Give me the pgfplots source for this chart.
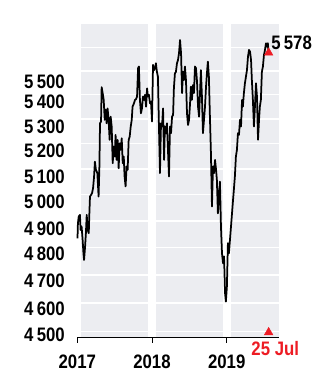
\documentclass[border=0pt]{standalone}
\usepackage{pgfplots}
\pgfplotsset{compat=1.18}
\usepackage{fontspec}
\setmainfont{Liberation Sans}[FakeStretch=0.86]
\definecolor{panel}{RGB}{236,237,241}
\definecolor{myred}{RGB}{237,28,36}
\pgfplotstableread{
day value
1 4835
3 4891
7 4917
13 4923
16 4866
21 4879
26 4829
30 4780
33 4755
38 4804
42 4854
46 4923
51 4866
56 4854
59 4929
62 4993
67 4999
72 5006
77 5025
82 5071
86 5129
91 5097
98 5084
104 4993
108 5110
111 5283
116 5290
119 5432
124 5407
129 5379
134 5297
139 5338
143 5283
148 5344
153 5297
158 5216
163 5310
168 5270
173 5123
178 5189
183 5149
187 5236
192 5136
197 5216
202 5103
207 5202
212 5176
217 5222
222 5123
227 5149
231 5071
236 5032
241 5110
246 5097
251 5216
256 5229
261 5270
266 5297
270 5351
277 5365
282 5379
287 5382
292 5393
297 5512
301 5519
306 5379
311 5324
316 5344
321 5393
326 5379
331 5400
336 5351
341 5427
345 5393
350 5400
355 5365
360 5372
365 5290
370 5526
375 5504
380 5512
384 5533
389 5497
394 5476
399 5270
404 5084
409 5283
414 5270
419 5344
424 5136
428 5270
433 5243
438 5283
443 5176
448 5071
453 5270
458 5243
463 5310
468 5317
472 5427
477 5490
482 5497
487 5533
492 5547
497 5576
502 5633
507 5576
512 5407
516 5497
521 5462
526 5519
531 5462
536 5324
541 5276
546 5297
551 5365
555 5434
560 5379
565 5441
570 5407
575 5519
580 5512
585 5455
590 5351
595 5310
599 5393
604 5504
609 5393
614 5243
619 5297
624 5351
629 5434
634 5497
638 5540
643 5476
648 5310
653 5162
658 4955
663 5110
668 5084
673 5136
678 5097
682 5058
687 4929
692 4993
697 5051
702 4879
707 4780
712 4743
717 4768
722 4635
726 4605
731 4659
736 4817
741 4780
746 4829
751 4879
756 4929
761 4980
765 5019
770 5071
775 5149
780 5176
785 5243
790 5236
795 5297
800 5270
805 5379
809 5351
814 5407
819 5448
824 5476
829 5504
834 5561
839 5590
844 5583
849 5547
853 5462
858 5379
863 5270
868 5351
873 5448
878 5393
883 5216
888 5297
892 5351
897 5379
902 5497
907 5519
912 5568
917 5590
922 5619
927 5604
931 5619
935 5578
}\ftse
\begin{document}
\begin{tikzpicture}
\begin{axis}[
  set layers,
  at={(0pt,0pt)}, anchor=south west,
  scale only axis, width=201.7pt, height=313.3pt,
  xmin=0, xmax=985.6,
  ymode=log, ymin=4480, ymax=5703,
  axis x line*=bottom, axis y line*=left,
  x axis line style={-, black, line width=0.8pt},
  y axis line style={draw=none},
  xtick={0,365,730}, xticklabels={2017,2018,2019},
  ytick={4500,4600,4700,4800,4900,5000,5100,5200,5300,5400,5500,5600},
  yticklabels={\raisebox{3.5pt}{4\,500},\raisebox{1.6pt}{4\,600},\raisebox{1.3pt}{4\,700},\raisebox{0.7pt}{4\,800},\raisebox{-0.4pt}{4\,900},5\,000,\raisebox{-0.7pt}{5\,100},5\,200,\raisebox{-0.7pt}{5\,300},5\,400,\raisebox{-3.8pt}{5\,500},{}},
  ymajorgrids, grid style={white, line width=1.2pt},
  tick align=outside, major tick length=5.5pt,
  xtick style={black, line width=0.8pt},
  ytick style={draw=none},
  yminorticks=false,
  tick label style={font=\fontsize{19.5}{20}\selectfont\bfseries},
  xticklabel style={inner sep=0pt, anchor=base, yshift=-25.8pt},
  yticklabel style={inner sep=0pt, anchor=base east, xshift=-6.8pt, yshift=-13.8pt},
  clip=false,
]
\begin{pgfonlayer}{axis background}
\fill[panel] (axis cs:17,4480) rectangle (axis cs:347,5703);
\fill[panel] (axis cs:383,4480) rectangle (axis cs:713,5703);
\fill[panel] (axis cs:750,4480) rectangle (axis cs:985.6,5703);
\end{pgfonlayer}
\addplot[black, line width=1.75pt, line join=round, no markers] table[x=day, y=value] {\ftse};
\addplot[only marks, mark=triangle*, mark size=5pt, color=myred] coordinates {(935,5578)};
\addplot[only marks, mark=triangle*, mark size=5pt, color=myred] coordinates {(935,4497)};
\node[anchor=west, inner sep=0pt, xshift=2.5pt, yshift=9.9pt, font=\fontsize{19.5}{20}\selectfont\bfseries] at (axis cs:935,5578) {5\,578};
\node[anchor=north, inner sep=0pt, xshift=6.6pt, yshift=-3.4pt, text=myred, font=\fontsize{19.5}{20}\selectfont\bfseries] at (axis cs:935,4480) {25 Jul};
\end{axis}
\pgfresetboundingbox
\path[use as bounding box] (-77.3pt,-34.7pt) rectangle (248.7pt,337.3pt);
\end{tikzpicture}
\end{document}
